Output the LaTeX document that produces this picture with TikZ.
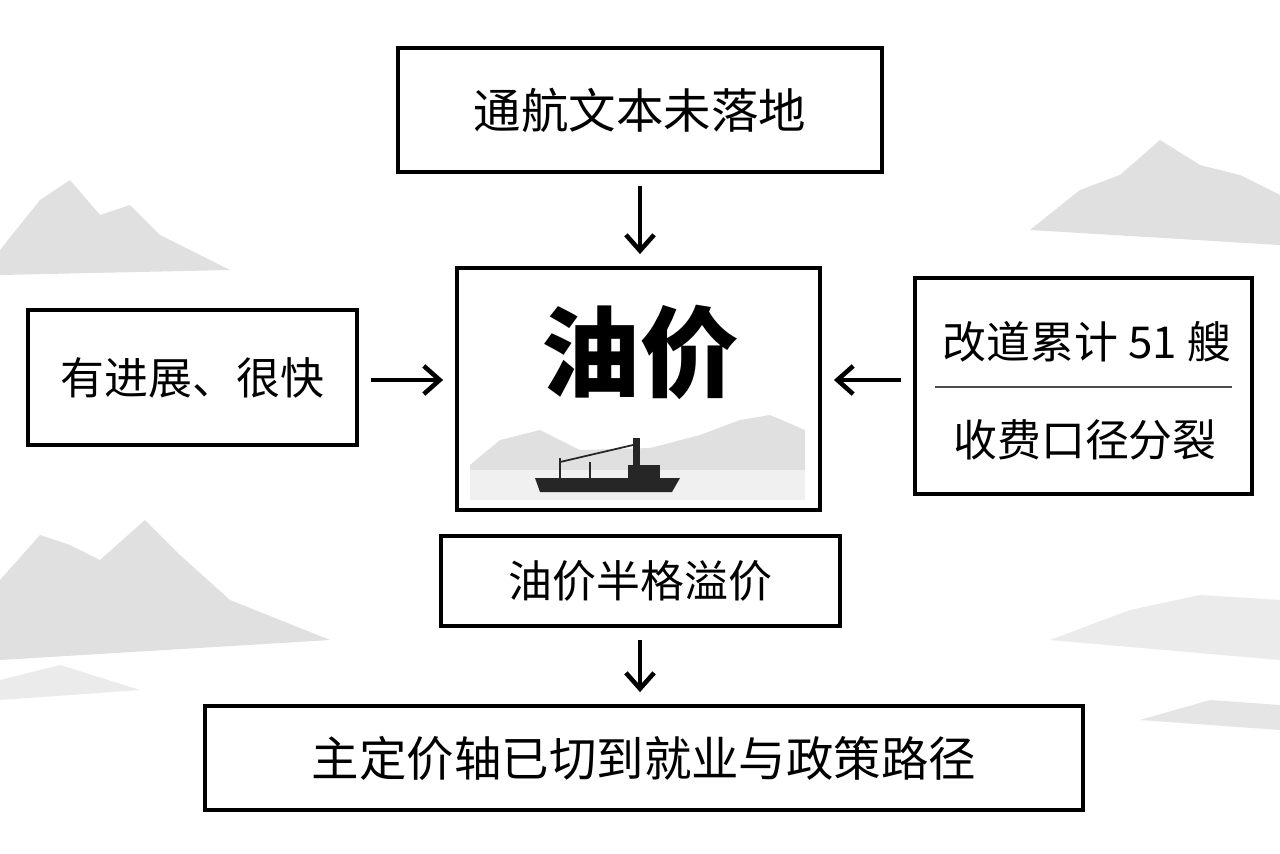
\documentclass[tikz,border=0pt]{standalone}
\usepackage{fontspec}
\setmainfont{Noto Sans CJK SC}
\usetikzlibrary{positioning}
\usetikzlibrary{arrows.meta}

\begin{document}
\begin{tikzpicture}[x=0.02cm,y=-0.02cm,
		box/.style={draw, line width=2.2pt, fill=white, inner sep=0pt},
		flow/.style={line width=2.6pt, -{Straight Barb[length=9pt,width=16pt]}, shorten <=0.24cm, shorten >=0.24cm},
		hill/.style={fill=black!12, draw=none}]
	\useasboundingbox (0,0) rectangle (1280,853);
	\fill[white] (0,0) rectangle (1280,853);
	% misty mountains
	\fill[hill] (0,250) -- (40,200) -- (70,180) -- (100,215) -- (130,205) -- (160,235) -- (230,270) -- (0,275) -- cycle;
	\fill[hill] (0,580) -- (40,535) -- (70,545) -- (100,560) -- (145,520) -- (180,555) -- (230,600) -- (330,640) -- (0,660) -- cycle;
	\fill[black!8] (0,680) -- (60,665) -- (140,690) -- (0,700) -- cycle;
	\fill[hill] (1030,230) -- (1080,190) -- (1120,175) -- (1160,140) -- (1200,165) -- (1240,175) -- (1280,195) -- (1280,245) -- cycle;
	\fill[black!8] (1050,640) -- (1130,610) -- (1200,595) -- (1280,600) -- (1280,660) -- cycle;
	\fill[black!10] (1140,720) -- (1210,700) -- (1280,705) -- (1280,730) -- cycle;

	% nodes
	\node[box, minimum width=484*0.02cm, minimum height=124*0.02cm, font=\fontsize{27}{27}\selectfont] (top) at (640,110) {通航文本未落地};
	\node[box, minimum width=363*0.02cm, minimum height=242*0.02cm] (oil) at (638.5,389) {};
	\node[font=\fontsize{56}{56}\selectfont\bfseries] (oiltext) at (640,352) {油价};
	\node[box, minimum width=329*0.02cm, minimum height=135*0.02cm, font=\fontsize{25}{25}\selectfont] (left) at (192.5,377.5) {有进展、很快};
	\node[box, minimum width=337*0.02cm, minimum height=216*0.02cm] (right) at (1083.5,386) {};
	\node[font=\fontsize{25}{25}\selectfont] (rtop) at (1087,342) {改道累计 51 艘};
	\node[font=\fontsize{25}{25}\selectfont] (rbot) at (1085,440) {收费口径分裂};
	\node[box, minimum width=399*0.02cm, minimum height=90*0.02cm, font=\fontsize{25}{25}\selectfont] (half) at (640.5,581) {油价半格溢价};
	\node[box, minimum width=878*0.02cm, minimum height=104*0.02cm, font=\fontsize{27}{27}\selectfont] (main) at (644,758) {主定价轴已切到就业与政策路径};
	\draw[line width=0.8pt, black!70] (935,387) -- (1232,387);
	\coordinate (row) at (0,380);

	% scene inside the price box
	\fill[black!12] (470,465) -- (500,440) -- (540,430) -- (580,450) -- (650,448) -- (700,435) -- (740,420) -- (770,415) -- (805,430) -- (805,470) -- (470,470) -- cycle;
	\fill[black!6] (470,470) rectangle (805,500);
	\fill[black!85] (535,478) -- (540,492) -- (672,492) -- (680,478) -- cycle;
	\fill[black!85] (628,478) rectangle (660,465);
	\fill[black!85] (633,465) rectangle (640,438);
	\draw[black!85, line width=1pt] (560,478) -- (560,458) (590,478) -- (590,462) (560,462) -- (633,445);

	% connectors
	\draw[flow] (top.south -| 640,0) -- (oil.north -| 640,0);
	\draw[flow] (left.east |- row) -- (oil.west |- row);
	\draw[flow] (right.west |- row) -- (oil.east |- row);
	\draw[flow] (half.south -| 640,0) -- (main.north -| 640,0);
\end{tikzpicture}
\end{document}
